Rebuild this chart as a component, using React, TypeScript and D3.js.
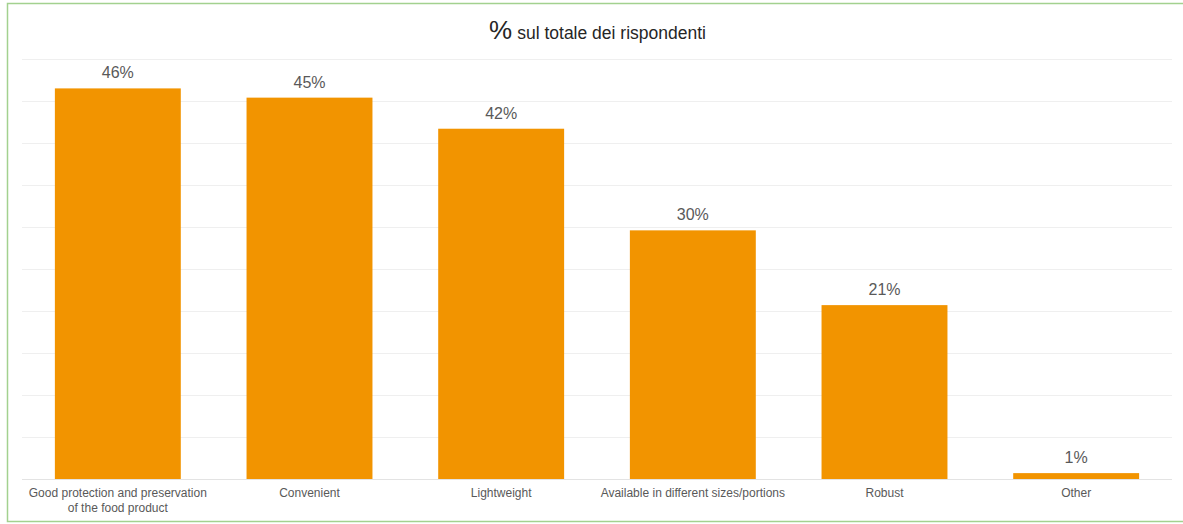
import React from "react";
import * as d3 from "d3";

const categories = [
  ["Good protection and preservation", "of the food product"],
  ["Convenient"],
  ["Lightweight"],
  ["Available in different sizes/portions"],
  ["Robust"],
  ["Other"],
];
const values = [46.5, 45.4, 41.7, 29.6, 20.7, 0.7];
const valueLabels = ["46%", "45%", "42%", "30%", "21%", "1%"];
const gridTicks = [0, 5, 10, 15, 20, 25, 30, 35, 40, 45, 50];

const W = 1183;
const H = 524;

export default function App() {
  const x = d3
    .scaleBand<number>()
    .domain(d3.range(categories.length))
    .range([22, 1172])
    .paddingInner(0.343)
    .paddingOuter(0.1715);
  const y = d3.scaleLinear().domain([0, 50]).range([479, 59]);
  const font = "'Liberation Sans', Arial, sans-serif";

  return (
    <svg
      width={W}
      height={H}
      style={{ position: "absolute", left: 0, top: 0, background: "#fff" }}
      fontFamily={font}
    >
      <rect x={0} y={0} width={W} height={H} fill="#fff" />
      {/* frame */}
      <rect x={7.5} y={3.5} width={1200} height={518} fill="none" stroke="#a3d18f" strokeWidth={1.5} />
      {/* title */}
      <text x={597.5} y={39} textAnchor="middle" fill="#262626">
        <tspan fontSize={26}>%</tspan>
        <tspan fontSize={17.5} dx={5}>sul totale dei rispondenti</tspan>
      </text>
      {/* grid */}
      {gridTicks.map((t) => (
        <line
          key={t}
          x1={22}
          x2={1172}
          y1={Math.round(y(t)) + 0.5}
          y2={Math.round(y(t)) + 0.5}
          stroke={t === 0 ? "#e3e3e3" : "#efefef"}
          strokeWidth={1}
        />
      ))}
      {/* bars */}
      {values.map((v, i) => (
        <g key={i}>
          <rect
            x={x(i)!}
            y={y(v)}
            width={x.bandwidth()}
            height={y(0) - y(v)}
            fill="#f29400"
          />
          <text
            x={x(i)! + x.bandwidth() / 2}
            y={y(v) - 10}
            textAnchor="middle"
            fontSize={16}
            fill="#595959"
          >
            {valueLabels[i]}
          </text>
          <text
            x={x(i)! + x.bandwidth() / 2}
            y={497}
            textAnchor="middle"
            fontSize={12}
            fill="#595959"
          >
            {categories[i].map((line, j) => (
              <tspan key={j} x={x(i)! + x.bandwidth() / 2} dy={j === 0 ? 0 : 14.5}>
                {line}
              </tspan>
            ))}
          </text>
        </g>
      ))}
    </svg>
  );
}
